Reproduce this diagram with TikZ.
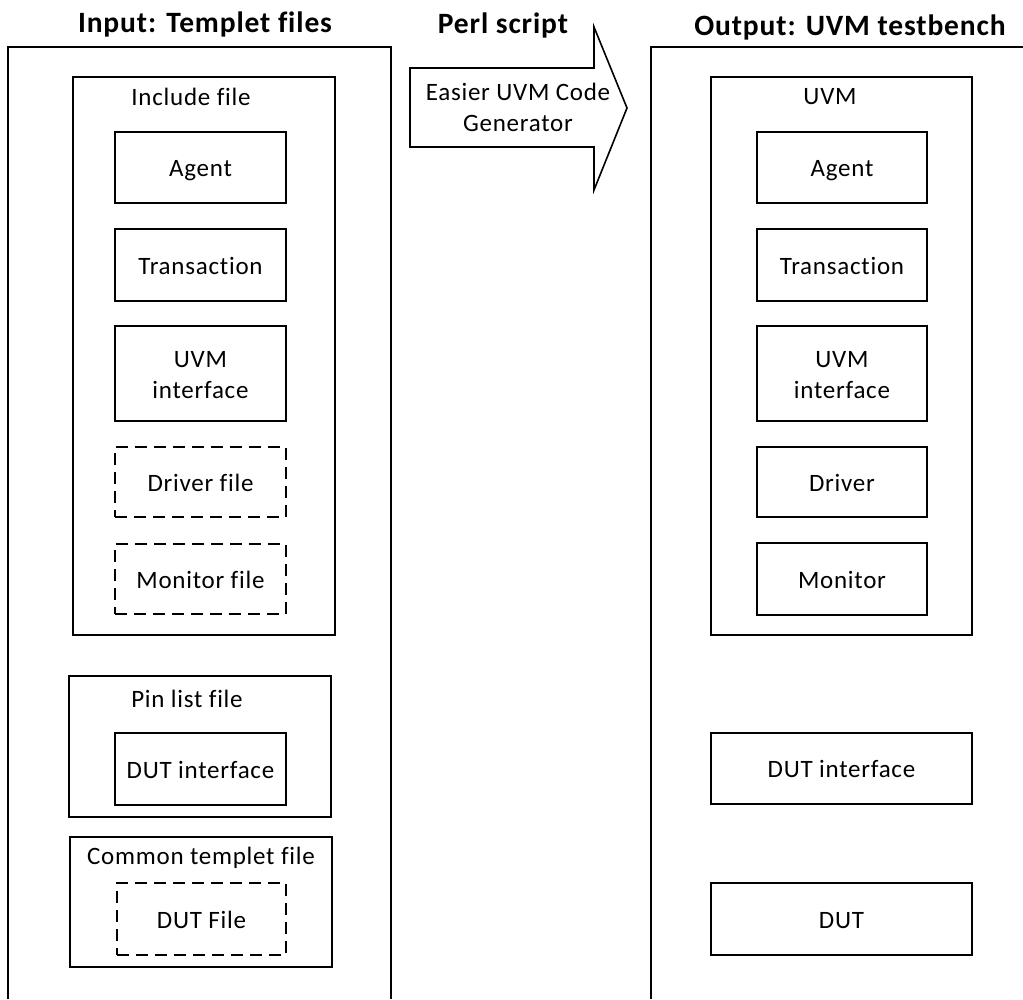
\documentclass[tikz,border=0pt]{standalone}
\usepackage{fontspec}
\setmainfont[Ligatures={NoCommon},LetterSpace=3]{Carlito}
\begin{document}
\begin{tikzpicture}[x=1pt,y=-1pt,
  txt/.style={font=\fontsize{25}{31}\selectfont},
  box/.style={draw, line width=1.6pt, inner sep=0pt, align=center, txt, text height=22pt, text depth=4pt},
  two/.style={text height=53pt, text depth=4pt},
  dbox/.style={box, dash pattern=on 12pt off 7pt},
  cont/.style={draw, line width=1.6pt, inner sep=0pt},
  lbl/.style={inner sep=0pt, anchor=base, txt},
  ttl/.style={inner sep=0pt, anchor=base, font=\fontsize{29.5}{34}\selectfont\bfseries},
  frame/.style={line width=1.3pt},
  shaft/.style={line width=1.6pt, line join=miter}]
\useasboundingbox (0,0) rectangle (1023,999);

% titles
\node[ttl] (t1) at (205,32) {Input: Templet files};
\node[ttl] (t2) at (503,33) {Perl script};
\node[ttl] (t3) at (850,35) {Output: UVM testbench};

% outer frames (open at the bottom / right)
\coordinate (lf1) at (8,999);
\coordinate (lf2) at (8,47);
\coordinate (lf3) at (391,47);
\coordinate (lf4) at (391,999);
\draw[frame] (lf1) -- (lf2) -- (lf3) -- (lf4);
\coordinate (rf1) at (651,999);
\coordinate (rf2) at (651,47);
\coordinate (rf3) at (1023,47);
\draw[frame] (rf1) -- (rf2) -- (rf3);

% arrow
\draw[shaft] (410,68) -- (594,68) -- (594,27) -- (627,108) -- (594,190) -- (594,147) -- (410,147) -- cycle;
\node[txt, align=center, inner sep=0pt, two] (gen) at (518,107.2) {Easier UVM Code\\Generator};

% left: include file
\node[cont, minimum width=262pt, minimum height=558pt] (inc) at (204,356) {};
\node[lbl] (incl) at (191,105) {Include file};
\node[box, minimum width=171pt, minimum height=71pt] (lag) at (200.5,167.5) {Agent};
\node[box, minimum width=171pt, minimum height=72pt] (ltr) at (200.5,265) {Transaction};
\node[box, two, minimum width=171pt, minimum height=95pt] (lui) at (200.5,373.5) {UVM\\interface};
\node[dbox, minimum width=171pt, minimum height=70pt] (ldr) at (200.5,482) {Driver file};
\node[dbox, minimum width=171pt, minimum height=70pt] (lmo) at (200.5,579) {Monitor file};

% left: pin list file
\node[cont, minimum width=262pt, minimum height=141pt] (pin) at (200,746.5) {};
\node[lbl] (pinl) at (187,707) {Pin list file};
\node[box, minimum width=171pt, minimum height=72pt] (ldi) at (200.5,769) {DUT interface};

% left: common templet file
\node[cont, minimum width=262pt, minimum height=130pt] (com) at (201,902) {};
\node[lbl] (coml) at (201,864) {Common templet file};
\node[dbox, minimum width=169pt, minimum height=72pt] (ldut) at (201.5,919) {DUT File};

% right: UVM
\node[cont, minimum width=261pt, minimum height=558pt] (uvm) at (841.5,356) {};
\node[lbl] (uvml) at (830,104) {UVM};
\node[box, minimum width=170pt, minimum height=71pt] (rag) at (842,167.5) {Agent};
\node[box, minimum width=170pt, minimum height=72pt] (rtr) at (842,265) {Transaction};
\node[box, two, minimum width=170pt, minimum height=95pt] (rui) at (842,373.5) {UVM\\interface};
\node[box, minimum width=170pt, minimum height=70pt] (rdr) at (842,482) {Driver};
\node[box, minimum width=170pt, minimum height=72pt] (rmo) at (842,579) {Monitor};

\node[box, minimum width=261pt, minimum height=71pt] (rdi) at (841.5,768.5) {DUT interface};
\node[box, minimum width=261pt, minimum height=72pt] (rdut) at (841.5,919) {DUT};
\end{tikzpicture}
\end{document}
